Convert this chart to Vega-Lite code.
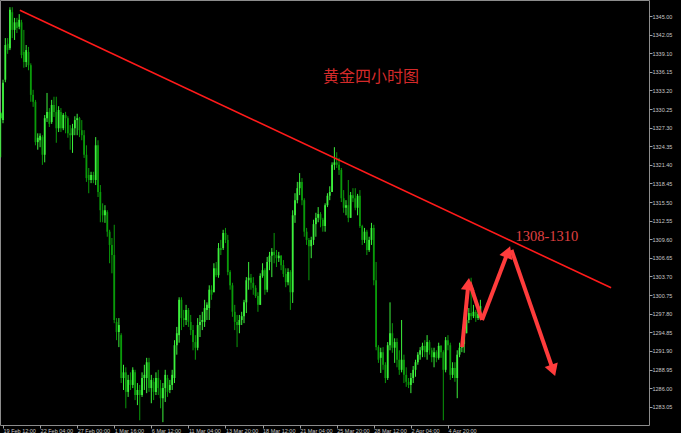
{
  "$schema": "https://vega.github.io/schema/vega-lite/v6.json",
  "width": 649,
  "height": 425,
  "autosize": {"type": "none"},
  "padding": {"left": 0, "top": 0, "right": 32, "bottom": 8},
  "background": "#000000",
  "config": {
    "view": {"stroke": "#8c8c8c", "strokeWidth": 1},
    "axis": {"grid": false, "domain": false, "tickColor": "#a0a0a0", "labelColor": "#c8c8c8", "labelFont": "Liberation Sans", "labelFontSize": 5.5, "tickSize": 3, "labelOverlap": false, "title": null}
  },
  "datasets": {
    "candles": [
      {"i":0,"o":1328.8,"h":1329.8,"l":1322.6,"c":1329.6},
      {"i":1,"o":1328.5,"h":1334.9,"l":1328.0,"c":1334.4},
      {"i":2,"o":1334.9,"h":1341.5,"l":1334.5,"c":1340.4},
      {"i":3,"o":1340.6,"h":1341.5,"l":1339.0,"c":1339.6},
      {"i":4,"o":1339.9,"h":1346.4,"l":1339.6,"c":1346.0},
      {"i":5,"o":1345.6,"h":1346.4,"l":1341.5,"c":1342.8},
      {"i":6,"o":1342.8,"h":1344.7,"l":1341.2,"c":1344.0},
      {"i":7,"o":1344.0,"h":1344.7,"l":1342.3,"c":1343.1},
      {"i":8,"o":1343.3,"h":1345.3,"l":1342.9,"c":1344.4},
      {"i":9,"o":1344.0,"h":1344.4,"l":1338.3,"c":1338.8},
      {"i":10,"o":1339.3,"h":1342.8,"l":1336.8,"c":1337.7},
      {"i":11,"o":1337.7,"h":1340.4,"l":1336.9,"c":1339.6},
      {"i":12,"o":1339.3,"h":1340.1,"l":1336.4,"c":1337.2},
      {"i":13,"o":1337.2,"h":1337.5,"l":1331.4,"c":1332.5},
      {"i":14,"o":1332.5,"h":1333.3,"l":1330.6,"c":1331.4},
      {"i":15,"o":1331.4,"h":1331.7,"l":1324.5,"c":1325.0},
      {"i":16,"o":1325.0,"h":1326.4,"l":1323.8,"c":1325.7},
      {"i":17,"o":1325.3,"h":1326.4,"l":1324.2,"c":1326.0},
      {"i":18,"o":1325.8,"h":1326.1,"l":1321.4,"c":1323.0},
      {"i":19,"o":1323.0,"h":1329.3,"l":1321.8,"c":1328.8},
      {"i":20,"o":1328.8,"h":1332.8,"l":1328.2,"c":1329.8},
      {"i":21,"o":1329.8,"h":1330.4,"l":1327.4,"c":1327.9},
      {"i":22,"o":1328.2,"h":1331.7,"l":1327.9,"c":1330.9},
      {"i":23,"o":1330.9,"h":1332.2,"l":1329.0,"c":1329.8},
      {"i":24,"o":1329.8,"h":1332.2,"l":1324.9,"c":1327.2},
      {"i":25,"o":1327.2,"h":1330.7,"l":1326.6,"c":1330.1},
      {"i":26,"o":1329.8,"h":1330.4,"l":1326.6,"c":1327.2},
      {"i":27,"o":1327.2,"h":1329.6,"l":1326.9,"c":1329.3},
      {"i":28,"o":1329.3,"h":1329.8,"l":1326.4,"c":1328.8},
      {"i":29,"o":1328.8,"h":1329.1,"l":1325.7,"c":1326.4},
      {"i":30,"o":1326.4,"h":1327.7,"l":1323.8,"c":1326.1},
      {"i":31,"o":1326.1,"h":1327.9,"l":1323.3,"c":1327.2},
      {"i":32,"o":1327.2,"h":1329.1,"l":1326.1,"c":1328.5},
      {"i":33,"o":1328.5,"h":1329.5,"l":1326.1,"c":1328.8},
      {"i":34,"o":1328.8,"h":1329.0,"l":1325.8,"c":1326.9},
      {"i":35,"o":1326.9,"h":1328.5,"l":1325.3,"c":1326.1},
      {"i":36,"o":1326.1,"h":1326.9,"l":1322.5,"c":1323.0},
      {"i":37,"o":1323.0,"h":1324.5,"l":1318.7,"c":1319.3},
      {"i":38,"o":1319.8,"h":1320.9,"l":1316.9,"c":1319.0},
      {"i":39,"o":1319.0,"h":1320.3,"l":1318.5,"c":1319.8},
      {"i":40,"o":1319.8,"h":1320.3,"l":1318.5,"c":1319.0},
      {"i":41,"o":1319.0,"h":1325.8,"l":1318.2,"c":1324.5},
      {"i":42,"o":1324.5,"h":1325.3,"l":1316.3,"c":1317.1},
      {"i":43,"o":1317.1,"h":1318.2,"l":1312.3,"c":1314.2},
      {"i":44,"o":1314.2,"h":1315.3,"l":1312.3,"c":1313.4},
      {"i":45,"o":1313.4,"h":1315.0,"l":1312.2,"c":1314.2},
      {"i":46,"o":1313.9,"h":1314.2,"l":1310.0,"c":1310.8},
      {"i":47,"o":1310.8,"h":1311.1,"l":1305.8,"c":1308.7},
      {"i":48,"o":1308.7,"h":1309.8,"l":1304.2,"c":1307.1},
      {"i":49,"o":1307.1,"h":1311.9,"l":1296.3,"c":1296.8},
      {"i":50,"o":1296.5,"h":1297.1,"l":1293.6,"c":1294.9},
      {"i":51,"o":1294.9,"h":1297.1,"l":1292.5,"c":1296.0},
      {"i":52,"o":1294.4,"h":1294.7,"l":1286.8,"c":1287.6},
      {"i":53,"o":1287.6,"h":1289.7,"l":1285.7,"c":1288.5},
      {"i":54,"o":1288.5,"h":1289.3,"l":1282.8,"c":1285.4},
      {"i":55,"o":1285.4,"h":1288.1,"l":1284.6,"c":1287.3},
      {"i":56,"o":1287.3,"h":1288.5,"l":1285.7,"c":1286.5},
      {"i":57,"o":1286.5,"h":1289.3,"l":1286.0,"c":1288.9},
      {"i":58,"o":1288.5,"h":1288.9,"l":1284.1,"c":1284.9},
      {"i":59,"o":1284.9,"h":1286.8,"l":1283.3,"c":1285.7},
      {"i":60,"o":1285.7,"h":1286.5,"l":1280.9,"c":1284.9},
      {"i":61,"o":1284.9,"h":1288.5,"l":1284.6,"c":1287.6},
      {"i":62,"o":1287.6,"h":1289.7,"l":1285.7,"c":1288.1},
      {"i":63,"o":1287.6,"h":1290.8,"l":1285.2,"c":1290.1},
      {"i":64,"o":1290.1,"h":1290.8,"l":1285.4,"c":1286.0},
      {"i":65,"o":1286.0,"h":1288.1,"l":1283.6,"c":1287.3},
      {"i":66,"o":1287.0,"h":1287.6,"l":1284.1,"c":1285.4},
      {"i":67,"o":1285.4,"h":1288.5,"l":1284.9,"c":1287.6},
      {"i":68,"o":1287.6,"h":1288.9,"l":1284.9,"c":1286.0},
      {"i":69,"o":1286.0,"h":1287.3,"l":1282.8,"c":1284.4},
      {"i":70,"o":1284.4,"h":1286.8,"l":1280.6,"c":1286.0},
      {"i":71,"o":1286.0,"h":1288.9,"l":1283.8,"c":1288.1},
      {"i":72,"o":1287.6,"h":1288.1,"l":1284.6,"c":1285.4},
      {"i":73,"o":1285.7,"h":1287.3,"l":1285.2,"c":1286.5},
      {"i":74,"o":1286.5,"h":1288.9,"l":1285.7,"c":1288.1},
      {"i":75,"o":1287.6,"h":1293.6,"l":1286.8,"c":1292.8},
      {"i":76,"o":1292.8,"h":1295.7,"l":1291.3,"c":1294.7},
      {"i":77,"o":1294.4,"h":1300.4,"l":1293.2,"c":1300.0},
      {"i":78,"o":1300.0,"h":1300.4,"l":1295.2,"c":1297.1},
      {"i":79,"o":1297.1,"h":1298.4,"l":1295.7,"c":1296.8},
      {"i":80,"o":1296.8,"h":1299.2,"l":1296.0,"c":1298.4},
      {"i":81,"o":1298.4,"h":1298.7,"l":1295.7,"c":1296.5},
      {"i":82,"o":1296.5,"h":1297.6,"l":1294.4,"c":1295.2},
      {"i":83,"o":1295.2,"h":1296.0,"l":1292.0,"c":1293.3},
      {"i":84,"o":1293.3,"h":1294.4,"l":1290.5,"c":1292.4},
      {"i":85,"o":1292.4,"h":1297.1,"l":1292.0,"c":1296.0},
      {"i":86,"o":1296.0,"h":1297.6,"l":1294.1,"c":1296.5},
      {"i":87,"o":1296.5,"h":1298.1,"l":1295.2,"c":1296.8},
      {"i":88,"o":1296.5,"h":1300.0,"l":1295.7,"c":1298.7},
      {"i":89,"o":1298.4,"h":1299.6,"l":1296.8,"c":1299.2},
      {"i":90,"o":1298.7,"h":1302.3,"l":1296.8,"c":1301.6},
      {"i":91,"o":1301.6,"h":1302.3,"l":1300.0,"c":1300.8},
      {"i":92,"o":1301.2,"h":1305.8,"l":1301.2,"c":1305.0},
      {"i":93,"o":1305.0,"h":1306.0,"l":1303.6,"c":1303.9},
      {"i":94,"o":1303.9,"h":1309.0,"l":1303.5,"c":1308.2},
      {"i":95,"o":1308.2,"h":1309.5,"l":1307.1,"c":1307.9},
      {"i":96,"o":1308.2,"h":1311.1,"l":1307.9,"c":1310.6},
      {"i":97,"o":1310.6,"h":1311.4,"l":1309.0,"c":1309.5},
      {"i":98,"o":1309.5,"h":1310.3,"l":1303.9,"c":1304.4},
      {"i":99,"o":1304.4,"h":1304.7,"l":1301.6,"c":1302.3},
      {"i":100,"o":1302.3,"h":1302.7,"l":1297.3,"c":1298.1},
      {"i":101,"o":1298.1,"h":1299.2,"l":1295.2,"c":1296.5},
      {"i":102,"o":1296.5,"h":1297.6,"l":1292.5,"c":1296.0},
      {"i":103,"o":1296.0,"h":1297.6,"l":1294.7,"c":1296.8},
      {"i":104,"o":1296.8,"h":1298.1,"l":1296.0,"c":1297.4},
      {"i":105,"o":1297.4,"h":1300.0,"l":1296.3,"c":1299.6},
      {"i":106,"o":1299.6,"h":1303.6,"l":1297.9,"c":1303.1},
      {"i":107,"o":1303.1,"h":1306.0,"l":1301.6,"c":1303.5},
      {"i":108,"o":1303.5,"h":1304.1,"l":1301.6,"c":1302.7},
      {"i":109,"o":1302.7,"h":1303.6,"l":1300.8,"c":1301.9},
      {"i":110,"o":1301.9,"h":1302.3,"l":1300.3,"c":1300.6},
      {"i":111,"o":1300.6,"h":1301.2,"l":1298.1,"c":1299.2},
      {"i":112,"o":1299.2,"h":1304.2,"l":1299.2,"c":1303.8},
      {"i":113,"o":1303.8,"h":1305.8,"l":1303.5,"c":1304.7},
      {"i":114,"o":1304.7,"h":1305.0,"l":1300.8,"c":1301.6},
      {"i":115,"o":1301.6,"h":1306.8,"l":1301.2,"c":1306.0},
      {"i":116,"o":1306.0,"h":1307.6,"l":1304.7,"c":1307.0},
      {"i":117,"o":1307.0,"h":1308.2,"l":1303.6,"c":1307.6},
      {"i":118,"o":1307.6,"h":1310.6,"l":1305.8,"c":1307.1},
      {"i":119,"o":1307.1,"h":1307.9,"l":1305.2,"c":1306.6},
      {"i":120,"o":1306.6,"h":1307.6,"l":1306.0,"c":1307.0},
      {"i":121,"o":1307.0,"h":1307.1,"l":1304.7,"c":1305.5},
      {"i":122,"o":1305.5,"h":1306.3,"l":1303.6,"c":1304.1},
      {"i":123,"o":1304.1,"h":1305.0,"l":1302.0,"c":1302.8},
      {"i":124,"o":1302.8,"h":1305.0,"l":1302.3,"c":1304.4},
      {"i":125,"o":1304.4,"h":1304.7,"l":1298.4,"c":1301.2},
      {"i":126,"o":1301.2,"h":1314.2,"l":1299.5,"c":1313.4},
      {"i":127,"o":1313.4,"h":1316.9,"l":1312.2,"c":1315.8},
      {"i":128,"o":1315.8,"h":1318.7,"l":1315.3,"c":1317.7},
      {"i":129,"o":1317.7,"h":1320.1,"l":1316.6,"c":1318.7},
      {"i":130,"o":1318.7,"h":1319.3,"l":1315.0,"c":1315.8},
      {"i":131,"o":1315.8,"h":1316.1,"l":1310.0,"c":1310.8},
      {"i":132,"o":1310.8,"h":1311.4,"l":1308.7,"c":1309.5},
      {"i":133,"o":1309.5,"h":1309.8,"l":1303.1,"c":1308.5},
      {"i":134,"o":1308.5,"h":1310.0,"l":1306.6,"c":1309.5},
      {"i":135,"o":1309.5,"h":1312.7,"l":1308.7,"c":1312.0},
      {"i":136,"o":1312.0,"h":1313.8,"l":1310.0,"c":1313.0},
      {"i":137,"o":1313.0,"h":1314.7,"l":1312.3,"c":1313.6},
      {"i":138,"o":1313.6,"h":1313.9,"l":1311.5,"c":1312.7},
      {"i":139,"o":1312.7,"h":1313.0,"l":1310.8,"c":1311.7},
      {"i":140,"o":1311.7,"h":1315.3,"l":1310.8,"c":1315.0},
      {"i":141,"o":1315.0,"h":1316.9,"l":1314.7,"c":1316.5},
      {"i":142,"o":1316.5,"h":1318.0,"l":1315.8,"c":1317.1},
      {"i":143,"o":1317.1,"h":1321.8,"l":1317.1,"c":1321.4},
      {"i":144,"o":1321.4,"h":1324.2,"l":1320.6,"c":1321.8},
      {"i":145,"o":1321.8,"h":1323.4,"l":1320.9,"c":1321.4},
      {"i":146,"o":1321.4,"h":1322.5,"l":1319.8,"c":1320.6},
      {"i":147,"o":1320.6,"h":1320.9,"l":1315.5,"c":1316.1},
      {"i":148,"o":1316.1,"h":1317.4,"l":1313.8,"c":1314.6},
      {"i":149,"o":1314.6,"h":1315.8,"l":1313.4,"c":1315.0},
      {"i":150,"o":1315.0,"h":1319.0,"l":1312.3,"c":1313.0},
      {"i":151,"o":1313.0,"h":1317.1,"l":1313.0,"c":1316.6},
      {"i":152,"o":1316.6,"h":1317.7,"l":1315.5,"c":1316.1},
      {"i":153,"o":1316.1,"h":1317.7,"l":1314.2,"c":1314.6},
      {"i":154,"o":1314.6,"h":1316.8,"l":1313.4,"c":1316.5},
      {"i":155,"o":1316.5,"h":1317.4,"l":1311.4,"c":1311.7},
      {"i":156,"o":1311.7,"h":1311.9,"l":1308.7,"c":1309.5},
      {"i":157,"o":1309.5,"h":1311.4,"l":1309.0,"c":1310.8},
      {"i":158,"o":1310.8,"h":1311.1,"l":1307.1,"c":1307.9},
      {"i":159,"o":1307.9,"h":1310.0,"l":1307.6,"c":1309.5},
      {"i":160,"o":1309.5,"h":1312.2,"l":1308.7,"c":1311.4},
      {"i":161,"o":1311.4,"h":1311.9,"l":1302.3,"c":1303.1},
      {"i":162,"o":1303.1,"h":1306.0,"l":1292.0,"c":1292.5},
      {"i":163,"o":1292.5,"h":1292.8,"l":1290.0,"c":1290.5},
      {"i":164,"o":1290.8,"h":1292.4,"l":1288.4,"c":1291.7},
      {"i":165,"o":1291.7,"h":1292.5,"l":1288.9,"c":1289.7},
      {"i":166,"o":1289.7,"h":1290.1,"l":1286.8,"c":1287.6},
      {"i":167,"o":1287.6,"h":1293.3,"l":1287.3,"c":1292.8},
      {"i":168,"o":1292.8,"h":1299.6,"l":1292.0,"c":1294.7},
      {"i":169,"o":1294.7,"h":1296.3,"l":1291.6,"c":1292.4},
      {"i":170,"o":1292.4,"h":1293.9,"l":1290.0,"c":1293.3},
      {"i":171,"o":1293.3,"h":1293.9,"l":1289.3,"c":1290.5},
      {"i":172,"o":1290.5,"h":1292.0,"l":1288.1,"c":1288.9},
      {"i":173,"o":1288.9,"h":1296.8,"l":1288.5,"c":1290.5},
      {"i":174,"o":1290.5,"h":1291.3,"l":1286.8,"c":1288.1},
      {"i":175,"o":1288.1,"h":1289.3,"l":1286.2,"c":1287.0},
      {"i":176,"o":1287.0,"h":1287.6,"l":1286.0,"c":1286.5},
      {"i":177,"o":1286.5,"h":1288.4,"l":1285.2,"c":1287.6},
      {"i":178,"o":1287.6,"h":1289.5,"l":1286.8,"c":1288.9},
      {"i":179,"o":1288.9,"h":1290.5,"l":1287.8,"c":1290.1},
      {"i":180,"o":1290.1,"h":1291.7,"l":1289.7,"c":1291.3},
      {"i":181,"o":1291.3,"h":1292.5,"l":1290.5,"c":1292.0},
      {"i":182,"o":1292.0,"h":1293.2,"l":1290.9,"c":1292.7},
      {"i":183,"o":1292.7,"h":1293.6,"l":1290.9,"c":1291.7},
      {"i":184,"o":1291.7,"h":1294.4,"l":1290.5,"c":1293.3},
      {"i":185,"o":1293.3,"h":1293.6,"l":1291.3,"c":1292.0},
      {"i":186,"o":1292.0,"h":1292.4,"l":1290.1,"c":1290.9},
      {"i":187,"o":1290.9,"h":1292.4,"l":1289.3,"c":1291.7},
      {"i":188,"o":1291.7,"h":1292.0,"l":1290.1,"c":1290.8},
      {"i":189,"o":1290.8,"h":1293.2,"l":1290.5,"c":1292.7},
      {"i":190,"o":1292.7,"h":1292.8,"l":1290.8,"c":1291.7},
      {"i":191,"o":1291.7,"h":1292.0,"l":1280.9,"c":1288.9},
      {"i":192,"o":1288.9,"h":1294.1,"l":1288.5,"c":1293.6},
      {"i":193,"o":1293.6,"h":1294.4,"l":1292.0,"c":1292.8},
      {"i":194,"o":1292.8,"h":1293.2,"l":1287.3,"c":1288.1},
      {"i":195,"o":1288.1,"h":1290.1,"l":1287.6,"c":1289.2},
      {"i":196,"o":1289.2,"h":1290.1,"l":1287.0,"c":1287.6},
      {"i":197,"o":1287.6,"h":1292.0,"l":1284.4,"c":1291.3},
      {"i":198,"o":1291.3,"h":1293.2,"l":1290.9,"c":1292.4},
      {"i":199,"o":1292.4,"h":1293.6,"l":1291.7,"c":1293.0},
      {"i":200,"o":1293.0,"h":1295.2,"l":1291.6,"c":1294.7},
      {"i":201,"o":1294.7,"h":1297.6,"l":1294.7,"c":1296.8},
      {"i":202,"o":1296.8,"h":1298.7,"l":1296.3,"c":1297.9},
      {"i":203,"o":1297.9,"h":1303.5,"l":1296.8,"c":1297.4},
      {"i":204,"o":1297.4,"h":1299.2,"l":1297.1,"c":1298.1},
      {"i":205,"o":1298.1,"h":1298.4,"l":1296.5,"c":1297.1},
      {"i":206,"o":1297.1,"h":1299.0,"l":1296.8,"c":1297.8},
      {"i":207,"o":1297.8,"h":1300.0,"l":1297.4,"c":1299.0}
    ],
    "trend": [
      {"i": 8.3, "p": 1345.9},
      {"i": 263.4, "p": 1301.9}
    ],
    "arrows": [
      {"i": 199.1, "p": 1292.5, "i2": 201.8, "p2": 1302.5},
      {"i": 202.3, "p": 1302.8, "i2": 207.7, "p2": 1296.8},
      {"i": 207.7, "p": 1296.8, "i2": 218.9, "p2": 1307.6},
      {"i": 220.4, "p": 1307.9, "i2": 238.4, "p2": 1288.8}
    ],
    "labels": [
      {"t": "黄金四小时图", "i": 159.8, "p": 1335.3}
    ],
    "target": [
      {"t": "1308-1310", "i": 235.7, "p": 1310.0}
    ]
  },
  "layer": [
    {
      "data": {"name": "candles"},
      "encoding": {
        "x": {
          "field": "i", "type": "quantitative",
          "scale": {"domain": [-0.294, 279.75], "nice": false, "zero": false},
          "axis": {
            "orient": "bottom", "title": null, "tickCount": 40,
            "values": [1, 17, 33, 49, 65, 81, 97, 113, 129, 145, 161, 177, 193],
            "labelExpr": "['19 Feb 12:00','22 Feb 04:00','27 Feb 00:00','1 Mar 16:00','6 Mar 12:00','11 Mar 04:00','13 Mar 20:00','18 Mar 12:00','21 Mar 04:00','25 Mar 20:00','28 Mar 12:00','2 Apr 04:00','4 Apr 20:00'][round((datum.value - 1) / 16)]",
            "labelAlign": "left", "labelDx": 2, "labelPadding": 0, "labelBaseline": "top",
            "labelFlush": false, "labelOverlap": false
          }
        },
        "color": {"condition": {"test": "datum.c >= datum.o", "value": "#3cf03c"}, "value": "#0a9a0a"}
      },
      "layer": [
        {
          "mark": {"type": "rule", "strokeWidth": 1},
          "encoding": {
            "y": {
              "field": "l", "type": "quantitative",
              "scale": {"domain": [1280.15, 1347.54], "nice": false, "zero": false},
              "axis": {
                "orient": "right", "title": null, "tickCount": 40,
                "values": [1283.05, 1286.0, 1288.95, 1291.9, 1294.85, 1297.8, 1300.75, 1303.7, 1306.65, 1309.6, 1312.55, 1315.5, 1318.45, 1321.4, 1324.35, 1327.3, 1330.25, 1333.2, 1336.15, 1339.1, 1342.05, 1345.0],
                "format": ".2f", "labelPadding": 0, "labelAlign": "left", "labelBaseline": "middle",
                "labelFlush": false, "labelOverlap": false
              }
            },
            "y2": {"field": "h"}
          }
        },
        {
          "mark": {"type": "rule", "strokeWidth": 1.8},
          "encoding": {
            "y": {"field": "o", "type": "quantitative", "scale": {"domain": [1280.15, 1347.54], "nice": false, "zero": false}, "axis": {"title": null, "labelOverlap": false}},
            "y2": {"field": "c"}
          }
        }
      ]
    },
    {
      "data": {"name": "trend"},
      "mark": {"type": "line", "color": "#ff1a1a", "strokeWidth": 1.6},
      "encoding": {
        "x": {"field": "i", "type": "quantitative", "scale": {"domain": [-0.294, 279.75], "nice": false, "zero": false}, "axis": {"title": null, "labelOverlap": false}},
        "y": {"field": "p", "type": "quantitative", "scale": {"domain": [1280.15, 1347.54], "nice": false, "zero": false}, "axis": {"title": null, "labelOverlap": false}}
      }
    },
    {
      "data": {"name": "arrows"},
      "mark": {"type": "rule", "color": "#ff3c3c", "strokeWidth": 4},
      "encoding": {
        "x": {"field": "i", "type": "quantitative", "scale": {"domain": [-0.294, 279.75], "nice": false, "zero": false}, "axis": {"title": null, "labelOverlap": false}},
        "y": {"field": "p", "type": "quantitative", "scale": {"domain": [1280.15, 1347.54], "nice": false, "zero": false}, "axis": {"title": null, "labelOverlap": false}},
        "x2": {"field": "i2"},
        "y2": {"field": "p2"}
      }
    },
    {
      "data": {"values": [{"i": 201.8, "p": 1302.5}]},
      "mark": {"type": "point", "shape": "triangle-up", "filled": true, "color": "#ff3c3c", "opacity": 1, "size": 190, "angle": 6},
      "encoding": {
        "x": {"field": "i", "type": "quantitative", "scale": {"domain": [-0.294, 279.75], "nice": false, "zero": false}, "axis": {"title": null, "labelOverlap": false}},
        "y": {"field": "p", "type": "quantitative", "scale": {"domain": [1280.15, 1347.54], "nice": false, "zero": false}, "axis": {"title": null, "labelOverlap": false}}
      }
    },
    {
      "data": {"values": [{"i": 218.9, "p": 1307.6}]},
      "mark": {"type": "point", "shape": "triangle-up", "filled": true, "color": "#ff3c3c", "opacity": 1, "size": 190, "angle": 21},
      "encoding": {
        "x": {"field": "i", "type": "quantitative", "scale": {"domain": [-0.294, 279.75], "nice": false, "zero": false}, "axis": {"title": null, "labelOverlap": false}},
        "y": {"field": "p", "type": "quantitative", "scale": {"domain": [1280.15, 1347.54], "nice": false, "zero": false}, "axis": {"title": null, "labelOverlap": false}}
      }
    },
    {
      "data": {"values": [{"i": 238.4, "p": 1288.8}]},
      "mark": {"type": "point", "shape": "triangle-up", "filled": true, "color": "#ff3c3c", "opacity": 1, "size": 190, "angle": 161},
      "encoding": {
        "x": {"field": "i", "type": "quantitative", "scale": {"domain": [-0.294, 279.75], "nice": false, "zero": false}, "axis": {"title": null, "labelOverlap": false}},
        "y": {"field": "p", "type": "quantitative", "scale": {"domain": [1280.15, 1347.54], "nice": false, "zero": false}, "axis": {"title": null, "labelOverlap": false}}
      }
    },
    {
      "data": {"name": "labels"},
      "mark": {"type": "text", "font": "Noto Sans CJK SC", "fontSize": 16, "color": "#d42a2a", "align": "center", "baseline": "middle"},
      "encoding": {
        "x": {"field": "i", "type": "quantitative", "scale": {"domain": [-0.294, 279.75], "nice": false, "zero": false}, "axis": {"title": null, "labelOverlap": false}},
        "y": {"field": "p", "type": "quantitative", "scale": {"domain": [1280.15, 1347.54], "nice": false, "zero": false}, "axis": {"title": null, "labelOverlap": false}},
        "text": {"field": "t"}
      }
    },
    {
      "data": {"name": "target"},
      "mark": {"type": "text", "font": "Liberation Serif", "fontSize": 14.5, "color": "#e04040", "align": "center", "baseline": "middle"},
      "encoding": {
        "x": {"field": "i", "type": "quantitative", "scale": {"domain": [-0.294, 279.75], "nice": false, "zero": false}, "axis": {"title": null, "labelOverlap": false}},
        "y": {"field": "p", "type": "quantitative", "scale": {"domain": [1280.15, 1347.54], "nice": false, "zero": false}, "axis": {"title": null, "labelOverlap": false}},
        "text": {"field": "t"}
      }
    }
  ]
}
